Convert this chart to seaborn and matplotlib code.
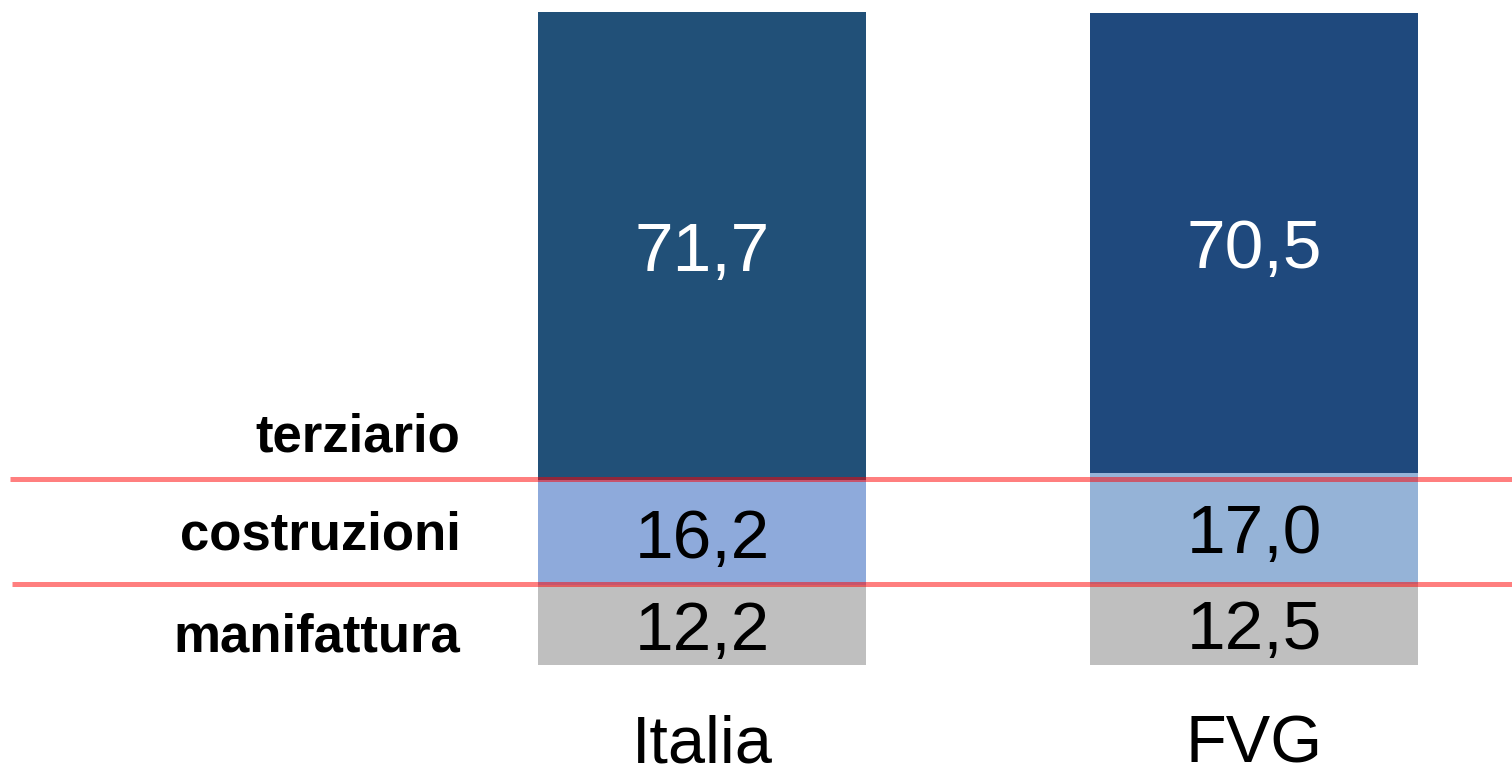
import numpy as np
import pandas as pd
import seaborn as sns
import matplotlib.pyplot as plt

sns.set_theme(style='white')
plt.rcParams['font.family'] = ['Liberation Sans', 'DejaVu Sans']

# data
regions = ['Italia', 'FVG']
manifattura = [12.2, 12.5]
costruzioni = [16.2, 17.0]
terziario = [71.7, 70.5]
sectors = ['manifattura', 'costruzioni', 'terziario']

col_dark = ['#215078', '#1F497D']
col_light = ['#8EAADB', '#95B3D7']
col_gray = ['#BFBFBF', '#BFBFBF']

df = pd.DataFrame({'region': regions, 'manifattura': manifattura,
                   'costruzioni': costruzioni, 'terziario': terziario})
df['c2'] = df['manifattura'] + df['costruzioni']
df['c3'] = df['c2'] + df['terziario']

fig = plt.figure(figsize=(15.12, 7.75), dpi=100)
ax = fig.add_axes([0, 0, 1, 1])

# stacked bars drawn from the tallest layer down
w = 0.594
sns.barplot(data=df, x='region', y='c3', hue='region', palette=col_dark,
            width=w, linewidth=0, saturation=1, legend=False, ax=ax)
sns.barplot(data=df, x='region', y='c2', hue='region', palette=col_light,
            width=w, linewidth=0, saturation=1, legend=False, ax=ax)
sns.barplot(data=df, x='region', y='manifattura', hue='region', palette=col_gray,
            width=w, linewidth=0, saturation=1, legend=False, ax=ax)

# value labels in the middle of each segment
off = 1.1
for i in range(len(regions)):
    m = df['manifattura'][i]
    c = df['costruzioni'][i]
    t = df['terziario'][i]
    ax.text(i, m / 2 - off, f'{m:.1f}'.replace('.', ','), ha='center', va='center',
            fontsize=50, color='black')
    ax.text(i, m + c / 2 - off, f'{c:.1f}'.replace('.', ','), ha='center', va='center',
            fontsize=50, color='black')
    ax.text(i, m + c + t / 2 - off, f'{t:.1f}'.replace('.', ','), ha='center', va='center',
            fontsize=50, color='white')
    ax.text(i, -12.4, regions[i], ha='center', va='center', fontsize=48, color='black')

# sector names on the left
ax.text(-0.438, 4.2, 'manifattura', ha='right', va='center', fontsize=38,
        fontweight='bold', color='black')
ax.text(-0.438, 19.8, 'costruzioni', ha='right', va='center', fontsize=38,
        fontweight='bold', color='black')
ax.text(-0.438, 34.9, 'terziario', ha='right', va='center', fontsize=38,
        fontweight='bold', color='black')

# red separator lines
ax.plot([-1.254, 1.467], [28.5, 28.5], color='red', alpha=0.5, lw=3.6, solid_capstyle='butt')
ax.plot([-1.25, 1.467], [12.4, 12.4], color='red', alpha=0.5, lw=3.6, solid_capstyle='butt')

ax.set_xlim(-1.272, 1.467)
ax.set_ylim(-16.87, 102.0)
ax.axis('off')

plt.savefig('out.png', dpi=100)
